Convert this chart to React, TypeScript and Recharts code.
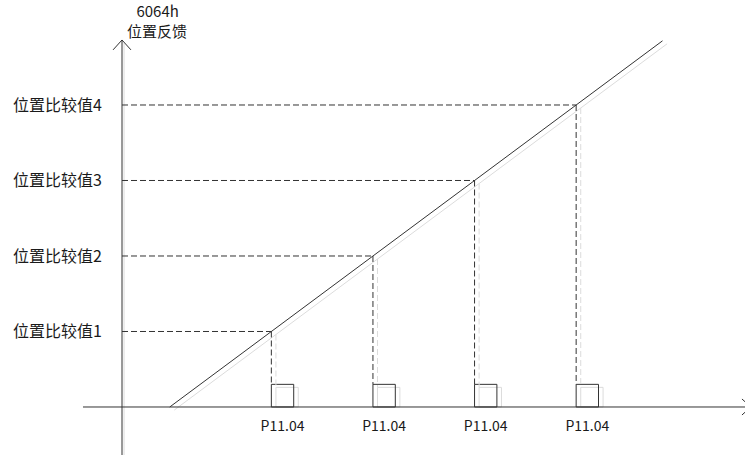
import { ComposedChart, Line, XAxis, YAxis, ReferenceLine, ReferenceArea } from 'recharts'

// compare positions (y) and the times where feedback reaches them (x)
const compareValues = [1, 2, 3, 4]
const compareLabels = ['位置比较值1', '位置比较值2', '位置比较值3', '位置比较值4']
const triggerTimes = [1.47, 2.47, 3.47, 4.47]
const pulseLabel = 'P11.04'
const pulseWidth = 0.22
const pulseHeight = 0.3

// position feedback ramp
const ramp = [
  { t: 0.47, p: 0 },
  { t: 5.32, p: 4.85 },
]

const W = 745
const H = 457
const X_DOMAIN: [number, number] = [-1.2008, 6.1319]
const Y_DOMAIN: [number, number] = [-0.6623, 5.3907]

const INK = '#333'
const TEXT = '#1a1a1a'
const SHADOW = '#dcdcdc'
const DX = 0.045
const DY = -0.04

const rampShadow = ramp.map((d) => ({ t: d.t + DX, p: d.p + DY }))

export default function App() {
  return (
    <div style={{ position: 'absolute', left: 0, top: 0, fontFamily: "'Noto Sans CJK SC', 'Noto Sans', sans-serif" }}>
      <ComposedChart width={W} height={H} margin={{ top: 0, right: 0, bottom: 0, left: 0 }}>
        <XAxis type="number" dataKey="t" domain={X_DOMAIN} allowDataOverflow hide />
        <YAxis type="number" dataKey="p" domain={Y_DOMAIN} allowDataOverflow hide />

        {/* soft shadow copies */}
        <ReferenceLine segment={[{ x: 0.02, y: -0.636 }, { x: 0.02, y: 4.82 }]} stroke={SHADOW} ifOverflow="visible" />
        {triggerTimes.map((t, i) => (
          <ReferenceLine
            key={'vs' + i}
            segment={[{ x: t + DX, y: compareValues[i] + DY }, { x: t + DX, y: pulseHeight + DY }]}
            stroke={SHADOW}
            strokeDasharray="6 3"
            ifOverflow="visible"
          />
        ))}
        {triggerTimes.map((t, i) => (
          <ReferenceArea
            key={'ps' + i}
            x1={t + DX}
            x2={t + pulseWidth + DX}
            y1={0}
            y2={pulseHeight + DY}
            fill="none"
            stroke={SHADOW}
            fillOpacity={0}
            ifOverflow="visible"
          />
        ))}
        <Line data={rampShadow} dataKey="p" stroke={SHADOW} strokeWidth={1} dot={false} activeDot={false} isAnimationActive={false} />

        {/* axes */}
        <ReferenceLine segment={[{ x: 0, y: -0.636 }, { x: 0, y: 4.861 }]} stroke={INK} ifOverflow="visible" />
        <ReferenceLine segment={[{ x: -0.088, y: 4.73 }, { x: 0, y: 4.861 }]} stroke={INK} ifOverflow="visible" />
        <ReferenceLine segment={[{ x: 0.088, y: 4.73 }, { x: 0, y: 4.861 }]} stroke={INK} ifOverflow="visible" />
        <ReferenceLine segment={[{ x: -0.384, y: 0 }, { x: 6.2, y: 0 }]} stroke={INK} ifOverflow="visible" />
        <ReferenceLine segment={[{ x: 6.102, y: 0.106 }, { x: 6.19, y: 0 }]} stroke={INK} ifOverflow="visible" />
        <ReferenceLine segment={[{ x: 6.102, y: -0.106 }, { x: 6.19, y: 0 }]} stroke={INK} ifOverflow="visible" />

        {/* axis title */}
        <ReferenceLine
          segment={[{ x: 0.35, y: 5.23 }, { x: 0.351, y: 5.23 }]}
          stroke="none"
          ifOverflow="visible"
          label={{ value: '6064h', position: 'center', fill: TEXT, fontSize: 15 }}
        />
        <ReferenceLine
          segment={[{ x: 0.345, y: 4.97 }, { x: 0.346, y: 4.97 }]}
          stroke="none"
          ifOverflow="visible"
          label={{ value: '位置反馈', position: 'center', fill: TEXT, fontSize: 15 }}
        />

        {/* compare levels */}
        {compareValues.map((v, i) => (
          <ReferenceLine
            key={'h' + i}
            segment={[{ x: 0, y: v }, { x: triggerTimes[i], y: v }]}
            stroke={INK}
            strokeDasharray="6 3"
            ifOverflow="visible"
            label={{ value: compareLabels[i], position: 'left', offset: 20, fill: TEXT, fontSize: 16 }}
          />
        ))}
        {triggerTimes.map((t, i) => (
          <ReferenceLine
            key={'v' + i}
            segment={[{ x: t, y: compareValues[i] }, { x: t, y: pulseHeight }]}
            stroke={INK}
            strokeDasharray="6 3"
            ifOverflow="visible"
          />
        ))}

        {/* output pulses */}
        {triggerTimes.map((t, i) => (
          <ReferenceArea
            key={'p' + i}
            x1={t}
            x2={t + pulseWidth}
            y1={0}
            y2={pulseHeight}
            fill="none"
            fillOpacity={0}
            stroke={INK}
            strokeOpacity={1}
            ifOverflow="visible"
            label={{ value: pulseLabel, position: 'bottom', offset: 14, fill: TEXT, fontSize: 14 }}
          />
        ))}

        <Line data={ramp} dataKey="p" stroke={INK} strokeWidth={1} dot={false} activeDot={false} isAnimationActive={false} />
      </ComposedChart>
    </div>
  )
}
